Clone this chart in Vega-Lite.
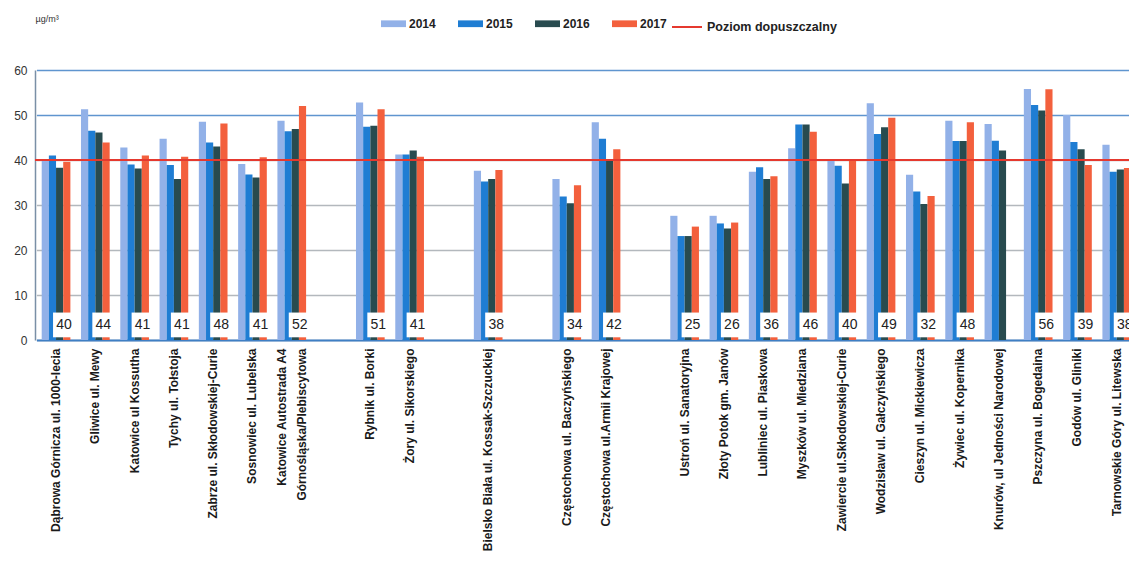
{
  "$schema": "https://vega.github.io/schema/vega-lite/v6.json",
  "width": 1094,
  "height": 270,
  "autosize": {"type": "none"},
  "padding": {"left": 35, "top": 70, "right": 0, "bottom": 232},
  "background": "white",
  "config": {"view": {"stroke": null}, "font": "Liberation Sans"},
  "data": {"values": [
    {"station": "Dąbrowa Górnicza ul. 1000-lecia", "year": "2014", "value": 40.2},
    {"station": "Dąbrowa Górnicza ul. 1000-lecia", "year": "2015", "value": 41.0},
    {"station": "Dąbrowa Górnicza ul. 1000-lecia", "year": "2016", "value": 38.3},
    {"station": "Dąbrowa Górnicza ul. 1000-lecia", "year": "2017", "value": 39.6},
    {"station": "Gliwice ul. Mewy", "year": "2014", "value": 51.3},
    {"station": "Gliwice ul. Mewy", "year": "2015", "value": 46.5},
    {"station": "Gliwice ul. Mewy", "year": "2016", "value": 46.1},
    {"station": "Gliwice ul. Mewy", "year": "2017", "value": 43.9},
    {"station": "Katowice ul Kossutha", "year": "2014", "value": 42.8},
    {"station": "Katowice ul Kossutha", "year": "2015", "value": 39.0},
    {"station": "Katowice ul Kossutha", "year": "2016", "value": 38.1},
    {"station": "Katowice ul Kossutha", "year": "2017", "value": 41.0},
    {"station": "Tychy ul. Tołstoja", "year": "2014", "value": 44.7},
    {"station": "Tychy ul. Tołstoja", "year": "2015", "value": 38.9},
    {"station": "Tychy ul. Tołstoja", "year": "2016", "value": 35.8},
    {"station": "Tychy ul. Tołstoja", "year": "2017", "value": 40.7},
    {"station": "Zabrze ul. Skłodowskiej-Curie", "year": "2014", "value": 48.5},
    {"station": "Zabrze ul. Skłodowskiej-Curie", "year": "2015", "value": 43.9},
    {"station": "Zabrze ul. Skłodowskiej-Curie", "year": "2016", "value": 43.0},
    {"station": "Zabrze ul. Skłodowskiej-Curie", "year": "2017", "value": 48.1},
    {"station": "Sosnowiec ul. Lubelska", "year": "2014", "value": 39.1},
    {"station": "Sosnowiec ul. Lubelska", "year": "2015", "value": 36.8},
    {"station": "Sosnowiec ul. Lubelska", "year": "2016", "value": 36.1},
    {"station": "Sosnowiec ul. Lubelska", "year": "2017", "value": 40.6},
    {"station": "Katowice Autostrada A4 Górnośląska/Plebiscytowa", "year": "2014", "value": 48.7},
    {"station": "Katowice Autostrada A4 Górnośląska/Plebiscytowa", "year": "2015", "value": 46.4},
    {"station": "Katowice Autostrada A4 Górnośląska/Plebiscytowa", "year": "2016", "value": 46.9},
    {"station": "Katowice Autostrada A4 Górnośląska/Plebiscytowa", "year": "2017", "value": 52.0},
    {"station": "Rybnik ul. Borki", "year": "2014", "value": 52.8},
    {"station": "Rybnik ul. Borki", "year": "2015", "value": 47.4},
    {"station": "Rybnik ul. Borki", "year": "2016", "value": 47.6},
    {"station": "Rybnik ul. Borki", "year": "2017", "value": 51.3},
    {"station": "Żory ul. Sikorskiego", "year": "2014", "value": 41.2},
    {"station": "Żory ul. Sikorskiego", "year": "2015", "value": 41.2},
    {"station": "Żory ul. Sikorskiego", "year": "2016", "value": 42.1},
    {"station": "Żory ul. Sikorskiego", "year": "2017", "value": 40.7},
    {"station": "Bielsko Biała ul. Kossak-Szczuckiej", "year": "2014", "value": 37.6},
    {"station": "Bielsko Biała ul. Kossak-Szczuckiej", "year": "2015", "value": 35.2},
    {"station": "Bielsko Biała ul. Kossak-Szczuckiej", "year": "2016", "value": 35.8},
    {"station": "Bielsko Biała ul. Kossak-Szczuckiej", "year": "2017", "value": 37.8},
    {"station": "Częstochowa ul. Baczyńskiego", "year": "2014", "value": 35.8},
    {"station": "Częstochowa ul. Baczyńskiego", "year": "2015", "value": 31.9},
    {"station": "Częstochowa ul. Baczyńskiego", "year": "2016", "value": 30.4},
    {"station": "Częstochowa ul. Baczyńskiego", "year": "2017", "value": 34.4},
    {"station": "Częstochowa ul.Armii Krajowej", "year": "2014", "value": 48.4},
    {"station": "Częstochowa ul.Armii Krajowej", "year": "2015", "value": 44.7},
    {"station": "Częstochowa ul.Armii Krajowej", "year": "2016", "value": 40.0},
    {"station": "Częstochowa ul.Armii Krajowej", "year": "2017", "value": 42.4},
    {"station": "Ustroń ul. Sanatoryjna", "year": "2014", "value": 27.6},
    {"station": "Ustroń ul. Sanatoryjna", "year": "2015", "value": 23.1},
    {"station": "Ustroń ul. Sanatoryjna", "year": "2016", "value": 23.1},
    {"station": "Ustroń ul. Sanatoryjna", "year": "2017", "value": 25.2},
    {"station": "Złoty Potok gm. Janów", "year": "2014", "value": 27.6},
    {"station": "Złoty Potok gm. Janów", "year": "2015", "value": 25.9},
    {"station": "Złoty Potok gm. Janów", "year": "2016", "value": 24.8},
    {"station": "Złoty Potok gm. Janów", "year": "2017", "value": 26.1},
    {"station": "Lubliniec ul. Piaskowa", "year": "2014", "value": 37.4},
    {"station": "Lubliniec ul. Piaskowa", "year": "2015", "value": 38.4},
    {"station": "Lubliniec ul. Piaskowa", "year": "2016", "value": 35.8},
    {"station": "Lubliniec ul. Piaskowa", "year": "2017", "value": 36.4},
    {"station": "Myszków ul. Miedziana", "year": "2014", "value": 42.6},
    {"station": "Myszków ul. Miedziana", "year": "2015", "value": 47.9},
    {"station": "Myszków ul. Miedziana", "year": "2016", "value": 47.9},
    {"station": "Myszków ul. Miedziana", "year": "2017", "value": 46.3},
    {"station": "Zawiercie ul.Skłodowskiej-Curie", "year": "2014", "value": 40.0},
    {"station": "Zawiercie ul.Skłodowskiej-Curie", "year": "2015", "value": 38.7},
    {"station": "Zawiercie ul.Skłodowskiej-Curie", "year": "2016", "value": 34.8},
    {"station": "Zawiercie ul.Skłodowskiej-Curie", "year": "2017", "value": 39.8},
    {"station": "Wodzisław ul. Gałczyńskiego", "year": "2014", "value": 52.6},
    {"station": "Wodzisław ul. Gałczyńskiego", "year": "2015", "value": 45.8},
    {"station": "Wodzisław ul. Gałczyńskiego", "year": "2016", "value": 47.3},
    {"station": "Wodzisław ul. Gałczyńskiego", "year": "2017", "value": 49.4},
    {"station": "Cieszyn ul. Mickiewicza", "year": "2014", "value": 36.7},
    {"station": "Cieszyn ul. Mickiewicza", "year": "2015", "value": 33.0},
    {"station": "Cieszyn ul. Mickiewicza", "year": "2016", "value": 30.2},
    {"station": "Cieszyn ul. Mickiewicza", "year": "2017", "value": 32.0},
    {"station": "Żywiec ul. Kopernika", "year": "2014", "value": 48.7},
    {"station": "Żywiec ul. Kopernika", "year": "2015", "value": 44.2},
    {"station": "Żywiec ul. Kopernika", "year": "2016", "value": 44.2},
    {"station": "Żywiec ul. Kopernika", "year": "2017", "value": 48.4},
    {"station": "Knurów, ul Jedności Narodowej", "year": "2014", "value": 48.0},
    {"station": "Knurów, ul Jedności Narodowej", "year": "2015", "value": 44.3},
    {"station": "Knurów, ul Jedności Narodowej", "year": "2016", "value": 42.1},
    {"station": "Pszczyna ul. Bogedaina", "year": "2014", "value": 55.8},
    {"station": "Pszczyna ul. Bogedaina", "year": "2015", "value": 52.2},
    {"station": "Pszczyna ul. Bogedaina", "year": "2016", "value": 51.0},
    {"station": "Pszczyna ul. Bogedaina", "year": "2017", "value": 55.7},
    {"station": "Godów ul. Gliniki", "year": "2014", "value": 50.0},
    {"station": "Godów ul. Gliniki", "year": "2015", "value": 44.0},
    {"station": "Godów ul. Gliniki", "year": "2016", "value": 42.4},
    {"station": "Godów ul. Gliniki", "year": "2017", "value": 38.9},
    {"station": "Tarnowskie Góry ul. Litewska", "year": "2014", "value": 43.4},
    {"station": "Tarnowskie Góry ul. Litewska", "year": "2015", "value": 37.4},
    {"station": "Tarnowskie Góry ul. Litewska", "year": "2016", "value": 37.9},
    {"station": "Tarnowskie Góry ul. Litewska", "year": "2017", "value": 38.2}
  ]},
  "layer": [
    {
      "mark": {"type": "bar"},
      "encoding": {
        "x": {
          "field": "station", "type": "nominal",
          "scale": {
            "domain": ["Dąbrowa Górnicza ul. 1000-lecia", "Gliwice ul. Mewy", "Katowice ul Kossutha", "Tychy ul. Tołstoja", "Zabrze ul. Skłodowskiej-Curie", "Sosnowiec ul. Lubelska", "Katowice Autostrada A4 Górnośląska/Plebiscytowa", " ", "Rybnik ul. Borki", "Żory ul. Sikorskiego", "  ", "Bielsko Biała ul. Kossak-Szczuckiej", "   ", "Częstochowa ul. Baczyńskiego", "Częstochowa ul.Armii Krajowej", "    ", "Ustroń ul. Sanatoryjna", "Złoty Potok gm. Janów", "Lubliniec ul. Piaskowa", "Myszków ul. Miedziana", "Zawiercie ul.Skłodowskiej-Curie", "Wodzisław ul. Gałczyńskiego", "Cieszyn ul. Mickiewicza", "Żywiec ul. Kopernika", "Knurów, ul Jedności Narodowej", "Pszczyna ul. Bogedaina", "Godów ul. Gliniki", "Tarnowskie Góry ul. Litewska"],
            "range": [1.4, 1101.4],
            "paddingInner": 0.27,
            "paddingOuter": 0.135
          },
          "axis": {
            "title": null,
            "labelAngle": -90,
            "labelFontSize": 12,
            "labelFontWeight": "bold",
            "labelColor": "#1a1a1a",
            "labelPadding": 8,
            "labelLimit": 400,
            "labelOverlap": false,
            "labelLineHeight": 20,
            "labelOffset": {"condition": {"test": "datum.value == 'Katowice Autostrada A4 Górnośląska/Plebiscytowa'", "value": -10}, "value": 0},
            "labelExpr": "datum.value == 'Katowice Autostrada A4 Górnośląska/Plebiscytowa' ? ['Katowice Autostrada A4', 'Górnośląska/Plebiscytowa'] : datum.value",
            "ticks": false,
            "domainColor": "#3f7fc4",
            "domainWidth": 2,
            "grid": false
          }
        },
        "xOffset": {"field": "year", "type": "nominal", "scale": {"paddingInner": 0, "paddingOuter": 0}},
        "y": {
          "field": "value", "type": "quantitative",
          "scale": {"domain": [0, 60], "nice": false},
          "axis": {
            "title": "µg/m³",
            "titleAngle": 0,
            "titleX": 0,
            "titleY": -52,
            "titleAlign": "left",
            "titleBaseline": "middle",
            "titleFontSize": 9,
            "titleFontWeight": "normal",
            "titleColor": "#333333",
            "values": [0, 10, 20, 30, 40, 50, 60],
            "labelFontSize": 12,
            "labelColor": "#333333",
            "labelPadding": 8,
            "ticks": false,
            "domainColor": "#7a8fa6",
            "domainWidth": 1.5,
            "grid": true,
            "gridWidth": 1.3,
            "gridColor": {"condition": {"test": "datum.value >= 50", "value": "#5f95cf"}, "value": "#b3b8bd"}
          }
        },
        "color": {
          "field": "year", "type": "nominal",
          "scale": {"domain": ["2014", "2015", "2016", "2017"], "range": ["#92b1e8", "#1f7dd3", "#284b4f", "#f3603d"]},
          "legend": {
            "orient": "none", "legendX": 346, "legendY": -59,
            "direction": "horizontal", "title": null,
            "symbolType": "M-1,-0.27H1V0.27H-1Z", "symbolSize": 625,
            "symbolStrokeWidth": 0,
            "labelFontSize": 12, "labelFontWeight": "bold", "labelColor": "#222222",
            "labelOffset": 3, "columnPadding": 22
          }
        }
      }
    },
    {
      "transform": [{"filter": "datum.year == '2017'"}],
      "mark": {"type": "bar", "width": 22, "xOffset": 8, "color": "white"},
      "encoding": {
        "x": {"field": "station", "type": "nominal"},
        "y": {"datum": 0.6},
        "y2": {"datum": 6.1}
      }
    },
    {
      "transform": [{"filter": "datum.year == '2017'"}],
      "mark": {"type": "text", "dx": 8, "fontSize": 14, "color": "#222222", "baseline": "middle"},
      "encoding": {
        "x": {"field": "station", "type": "nominal"},
        "y": {"datum": 3.3},
        "text": {"field": "value", "type": "quantitative", "format": ".0f"}
      }
    },
    {
      "data": {"values": [{"limit": 40}]},
      "mark": {"type": "rule", "strokeWidth": 2},
      "encoding": {
        "y": {"field": "limit", "type": "quantitative"},
        "stroke": {
          "datum": "Poziom dopuszczalny", "type": "nominal",
          "scale": {"range": ["#e5392f"]},
          "legend": {
            "orient": "none", "legendX": 636, "legendY": -59, "title": null,
            "symbolType": "stroke", "symbolSize": 900, "symbolStrokeWidth": 2,
            "labelFontSize": 12.5, "labelFontWeight": "bold", "labelColor": "#222222",
            "labelOffset": 4
          }
        }
      }
    }
  ]
}
